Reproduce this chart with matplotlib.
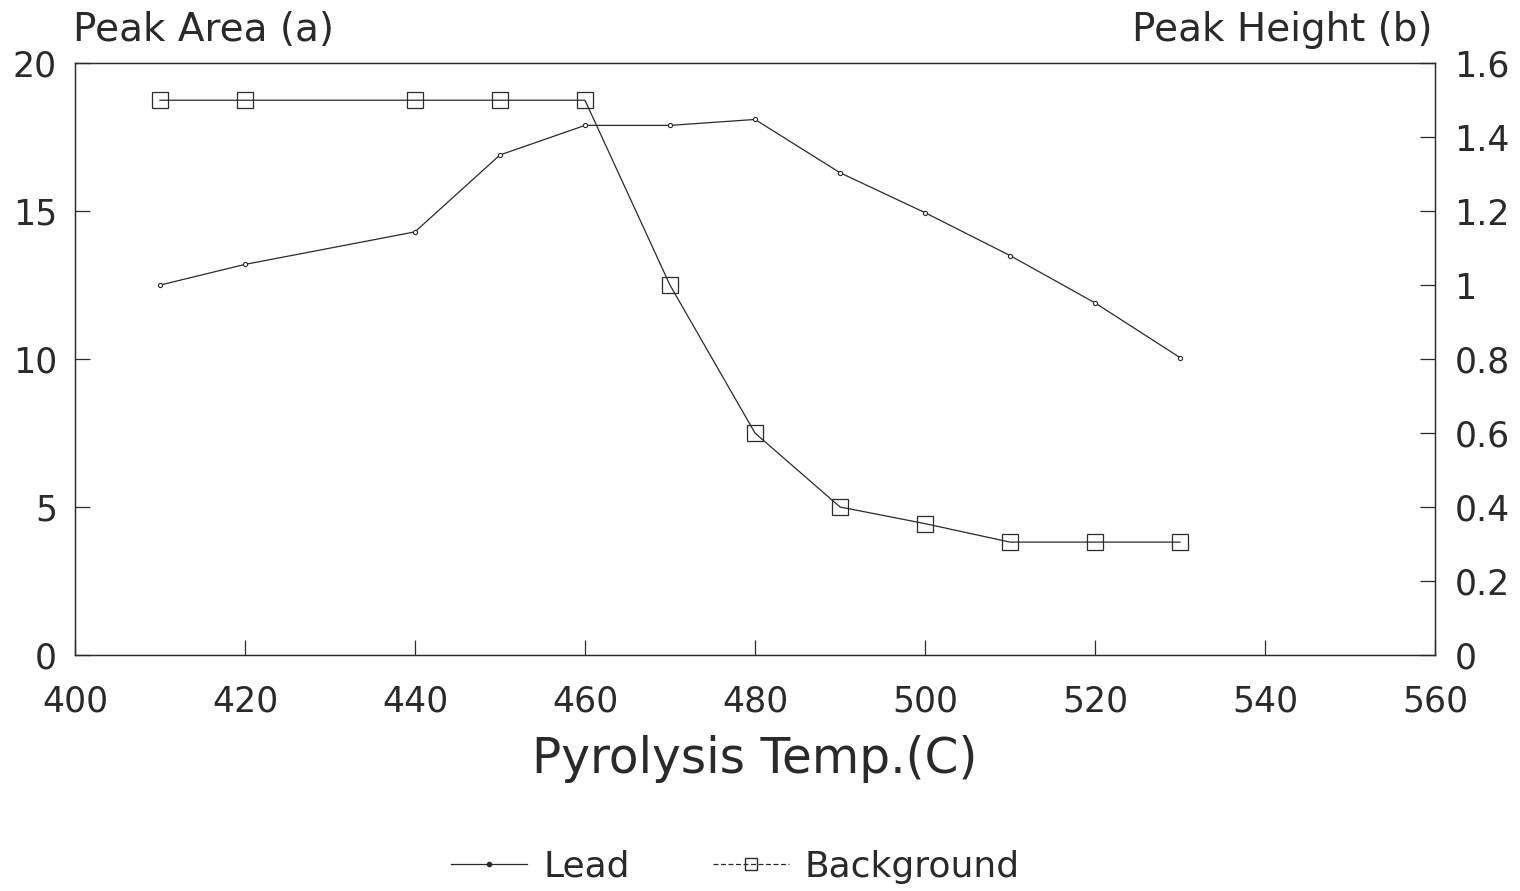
import matplotlib
matplotlib.use("Agg")
import matplotlib.pyplot as plt
from matplotlib.lines import Line2D

# pyrolysis temperature (C)
temps = [410, 420, 440, 450, 460, 470, 480, 490, 500, 510, 520, 530]
# peak area, left axis
lead = [12.5, 13.2, 14.3, 16.9, 17.9, 17.9, 18.1, 16.3, 14.95, 13.5, 11.9, 10.05]
# peak height, right axis
background = [1.5, 1.5, 1.5, 1.5, 1.5, 1.0, 0.6, 0.4, 0.355, 0.305, 0.305, 0.305]

x_ticks = [400, 420, 440, 460, 480, 500, 520, 540, 560]
left_ticks = [0, 5, 10, 15, 20]
right_ticks = [0, 0.2, 0.4, 0.6, 0.8, 1.0, 1.2, 1.4, 1.6]
right_labels = ["0", "0.2", "0.4", "0.6", "0.8", "1", "1.2", "1.4", "1.6"]

plt.rcParams["font.family"] = ["DejaVu Sans"]
ink = "#2a2a2a"

fig = plt.figure(figsize=(15.2, 8.91), dpi=100)
ax = fig.add_axes([0.0493, 0.265, 0.8948, 0.664])
ax2 = ax.twinx()

ax.plot(temps, lead, color=ink, linewidth=0.9, marker="o", markersize=3,
        markerfacecolor="white", markeredgecolor=ink, markeredgewidth=0.8)
ax2.plot(temps, background, color=ink, linewidth=0.9, marker="s", markersize=11,
         markerfacecolor="none", markeredgecolor=ink, markeredgewidth=0.9)

ax.set_xlim(400, 560)
ax.set_ylim(0, 20)
ax2.set_ylim(0, 1.6)
ax.set_xticks(x_ticks)
ax.set_yticks(left_ticks)
ax2.set_yticks(right_ticks)
ax2.set_yticklabels(right_labels)

for a in (ax, ax2):
    for s in a.spines.values():
        s.set_color(ink)
        s.set_linewidth(0.9)
ax.tick_params(axis="both", direction="in", length=11, width=0.9, color=ink,
               labelsize=25, labelcolor=ink)
ax.tick_params(axis="y", pad=13)
ax.tick_params(axis="x", pad=21)
ax2.tick_params(axis="y", direction="in", length=11, width=0.9, color=ink,
                labelsize=25, labelcolor=ink, pad=14)

ax.set_xlabel("Pyrolysis Temp.(C)", fontsize=35, color=ink, labelpad=12)

fig.text(73 / 1520, 1 - 41 / 891, "Peak Area (a)", fontsize=28, color=ink,
         ha="left", va="baseline")
fig.text(1433 / 1520, 1 - 41 / 891, "Peak Height (b)", fontsize=28, color=ink,
         ha="right", va="baseline")

handles = [
    Line2D([], [], color=ink, linewidth=0.9, marker="o", markersize=3,
           markerfacecolor=ink, markeredgecolor=ink),
    Line2D([], [], color=ink, linewidth=0.9, linestyle=(0, (4, 2)), marker="s",
           markersize=9, markerfacecolor="none", markeredgecolor=ink),
]
fig.legend(handles, ["Lead", "Background"], loc="center", ncol=2,
           bbox_to_anchor=(0.484, 0.027), frameon=False, fontsize=26,
           handlelength=2.1, handletextpad=0.45, columnspacing=2.3,
           labelcolor=ink)

fig.savefig("out.png", dpi=100, facecolor="white")
